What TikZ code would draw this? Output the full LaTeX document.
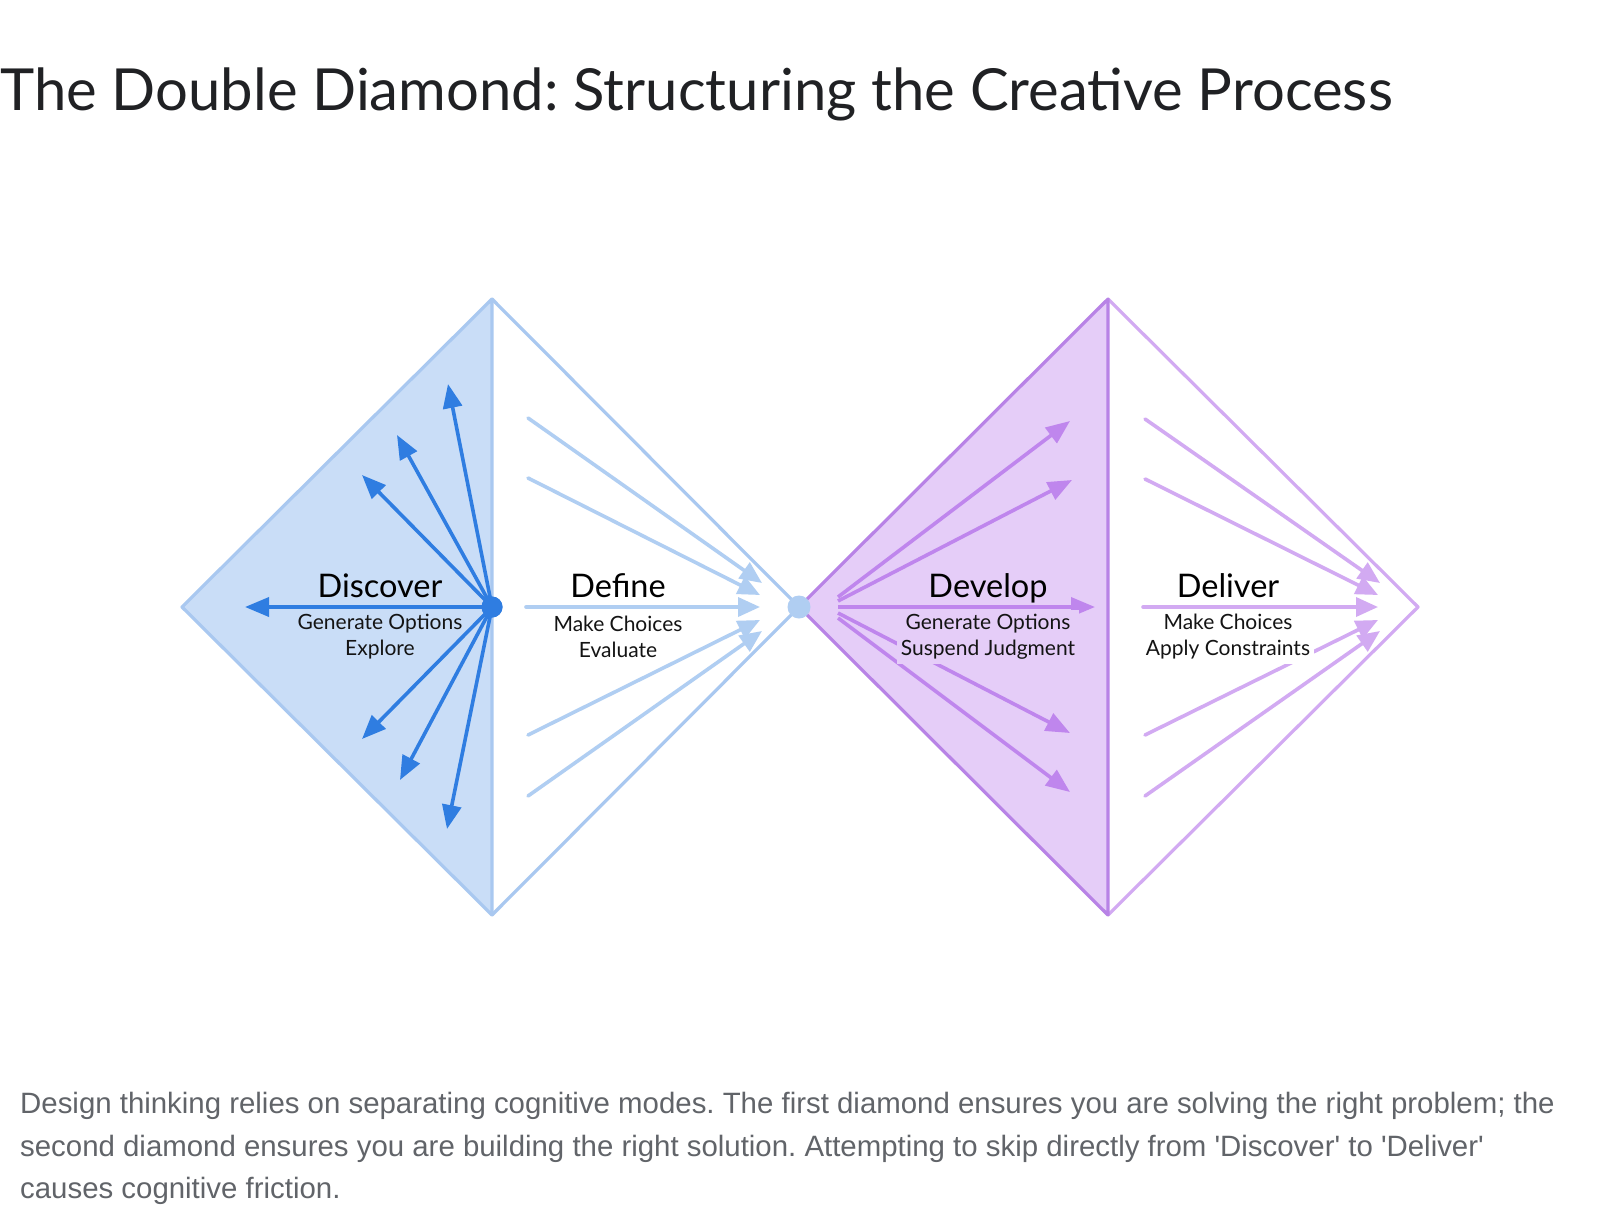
\documentclass[tikz,border=0pt]{standalone}
\usepackage{fontspec}
\setmainfont{Lato}
\newfontfamily\bodyfont{Liberation Sans}
\usetikzlibrary{arrows.meta}
\frenchspacing
\definecolor{dfill}{HTML}{C9DDF7}
\definecolor{dline}{HTML}{A9C8F0}
\definecolor{darkblue}{HTML}{2F7DE1}
\definecolor{defline}{HTML}{B0CEF2}
\definecolor{pfill}{HTML}{E5CDF8}
\definecolor{pline}{HTML}{B883E6}
\definecolor{parrow}{HTML}{BF86ED}
\definecolor{delline}{HTML}{D2AAF2}
\definecolor{bodygray}{HTML}{616469}
\definecolor{titleblack}{HTML}{202124}
\tikzset{
  blueout/.style={draw=dline, line width=3.2pt, line join=round},
  purpout/.style={draw=pline, line width=3.2pt, line join=round},
  purpout2/.style={draw=delline, line width=3.2pt, line join=round},
  discarrow/.style={draw=darkblue, line width=3.6pt, -{Triangle[length=24pt,width=19pt]}, shorten <=2pt},
  defarrow/.style={draw=defline, line width=3.6pt, line cap=round, -{Triangle[length=22pt,width=19pt]}},
  devarrow/.style={draw=parrow, line width=3.6pt, -{Triangle[length=24pt,width=19pt]}},
  delarrow/.style={draw=delline, line width=3.6pt, line cap=round, -{Triangle[length=22pt,width=19pt]}},
  heading/.style={font=\fontsize{32.5}{36}\selectfont, text=black, inner sep=1pt, anchor=base},
  sub/.style={font=\fontsize{21}{26}\selectfont, text=black!92, align=center, inner sep=1pt},
  body/.style={font=\bodyfont\fontsize{29.4}{32}\selectfont, text=bodygray, anchor=west, inner sep=0pt},
}
\begin{document}
\begin{tikzpicture}[x=1pt, y=-1pt]
\useasboundingbox (0,0) rectangle (1600,1226);
\fill[white] (0,0) rectangle (1600,1226);
% title
\node[anchor=base west, inner sep=0pt, text=titleblack, font=\fontsize{58}{62}\selectfont] (title) at (0,110) {The Double Diamond: Structuring the Creative Process};
% diamond corners
\coordinate (aL) at (182,607);
\coordinate (aT) at (492,299);
\coordinate (aB) at (492,915);
\coordinate (aR) at (799,607);
\coordinate (bT) at (1108,299);
\coordinate (bB) at (1108,915);
\coordinate (bR) at (1418,607);
% diamond 1
\fill[dfill] (aL) -- (aT) -- (aB) -- cycle;
\draw[blueout] (aT) -- (aR) -- (aB);
\draw[blueout] (aT) -- (aL) -- (aB) -- cycle;
% diamond 2
\fill[pfill] (aR) -- (bT) -- (bB) -- cycle;
\draw[purpout2] (bT) -- (bR) -- (bB);
\draw[purpout] (bT) -- (aR) -- (bB) -- cycle;
% Discover arrows
\node[circle, fill=darkblue, minimum size=21pt, inner sep=0pt] (hub1) at (492,607) {};
\foreach \n/\x/\y in {u1/448/384, u2/397/435, u3/362/475, h/245/607, d1/362/739, d2/400/780, d3/447/829}{
  \coordinate (disc\n) at (\x,\y);
  \draw[discarrow] (hub1.center) -- (disc\n);
}
\node[circle, fill=darkblue, minimum size=21pt, inner sep=0pt] at (hub1) {};
% Define lines
\foreach \i/\sx/\sy/\ex/\ey in {1/528/418/762/583, 2/528/478/760/595, 3/526/607/760/607, 4/528/735/760/620, 5/528/796/762/631}{
  \coordinate (defs\i) at (\sx,\sy);
  \coordinate (defe\i) at (\ex,\ey);
  \draw[defarrow] (defs\i) -- (defe\i);
}
% middle dot
\node[circle, fill=defline, minimum size=23pt, inner sep=0pt] (hub2) at (799,607) {};
% Develop arrows
\foreach \i/\sx/\sy/\ex/\ey in {1/838/597/1070/421, 2/838/601/1072/480, 3/838/607/1095/607, 4/838/613/1070/733, 5/838/618/1070/792}{
  \coordinate (devs\i) at (\sx,\sy);
  \coordinate (deve\i) at (\ex,\ey);
  \draw[devarrow] (devs\i) -- (deve\i);
}
% Deliver lines
\foreach \i/\sx/\sy/\ex/\ey in {1/1145/419/1380/583, 2/1145/479/1378/595, 3/1143/607/1378/607, 4/1145/735/1378/620, 5/1145/796/1380/631}{
  \coordinate (dels\i) at (\sx,\sy);
  \coordinate (dele\i) at (\ex,\ey);
  \draw[delarrow] (dels\i) -- (dele\i);
}
% labels
\node[heading] (discover) at (380,597) {Discover};
\node[sub] (discsub) at (380,637) {Generate Options\\Explore};
\node[heading] (define) at (618,597) {Define};
\node[sub] (defsub) at (618,637) {Make Choices\\Evaluate};
\node[heading] (develop) at (988,597) {Develop};
\node[sub, fill=pfill, inner sep=4pt] (devsub) at (988,637) {Generate Options\\Suspend Judgment};
\node[heading] (deliver) at (1228,597) {Deliver};
\node[sub, fill=white, inner sep=4pt] (delsub) at (1228,637) {Make Choices\\Apply Constraints};
% body text
\node[body] (p1) at (20,1106) {Design thinking relies on separating cognitive modes. The first diamond ensures you are solving the right problem; the};
\node[body] (p2) at (20,1149) {second diamond ensures you are building the right solution. Attempting to skip directly from 'Discover' to 'Deliver'};
\node[body] (p3) at (20,1191) {causes cognitive friction.};
\end{tikzpicture}
\end{document}
